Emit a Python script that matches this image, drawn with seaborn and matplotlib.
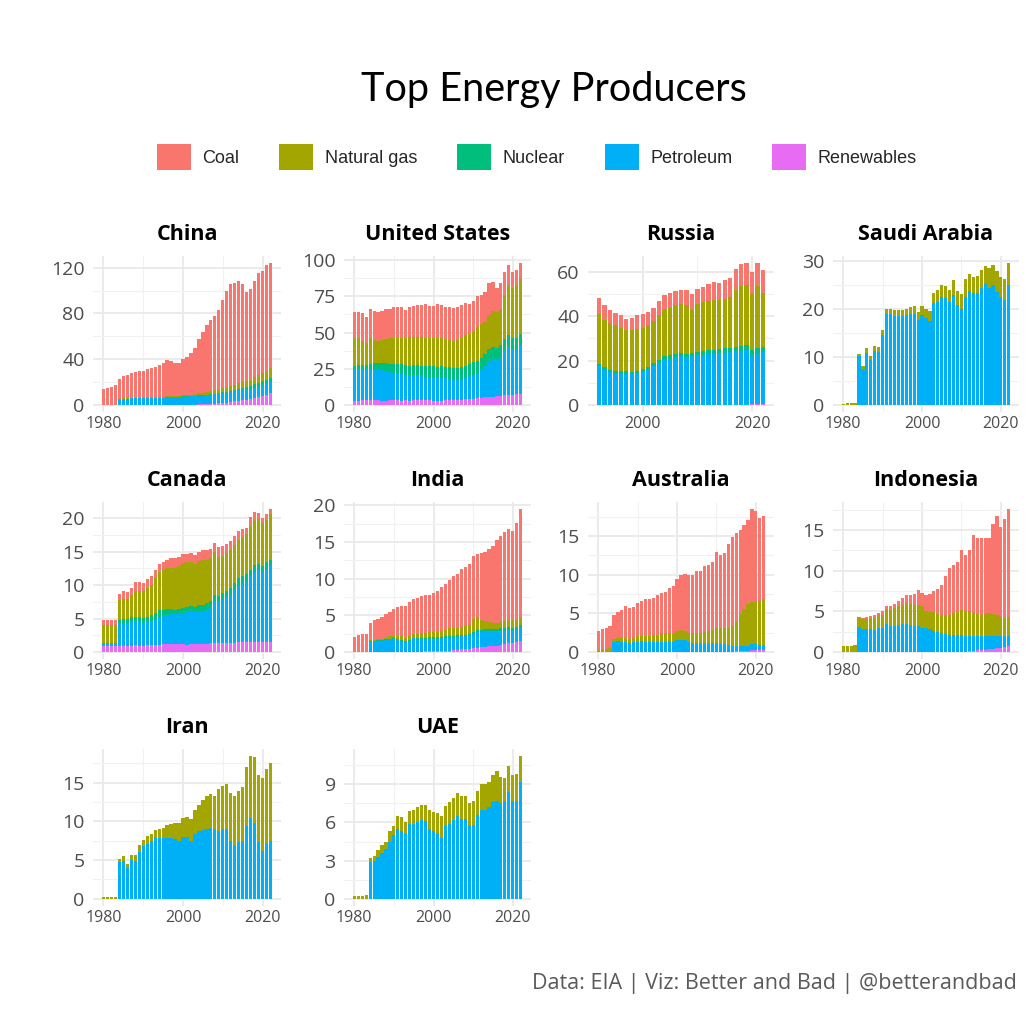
import numpy as np
import pandas as pd
import matplotlib
matplotlib.use("Agg")
import matplotlib.pyplot as plt
import seaborn as sns
from matplotlib.patches import Patch

# ---------------- data (quadrillion Btu) ----------------
sources = ["Coal", "Natural gas", "Nuclear", "Petroleum", "Renewables"]
colors = ["#F8766D", "#A3A500", "#00BF7D", "#00B0F6", "#E76BF3"]
countries = ["China", "United States", "Russia", "Saudi Arabia", "Canada",
             "India", "Australia", "Indonesia", "Iran", "UAE"]
first_year = {"Russia": 1992}

china_coal = [14, 14.5, 16, 17, 17.5, 19.0, 19.9, 21.8, 22.7, 23.6, 23.5, 24.4, 25.4, 26.2, 28.0, 29.9,
              31.5, 30.3, 29.3, 29.0, 31.6, 33.5, 36.1, 40.8, 48.0, 53.5, 58.9, 62.1, 65.2, 69.7, 77.3,
              84.6, 89.6, 89.4, 89.2, 85.8, 78.0, 78.8, 84.0, 89.1, 89.3, 92.2, 92.1]
china_gas = [0, 0, 0, 0, 0.5, 0.5, 0.5, 0.5, 0.5, 0.6, 0.6, 0.6, 0.6, 0.7, 0.7, 0.7, 0.8, 0.8, 0.8, 0.9,
             1.0, 1.1, 1.2, 1.3, 1.6, 1.9, 2.2, 2.6, 2.9, 3.2, 3.6, 3.9, 4.1, 4.5, 4.8, 5.0, 5.1, 5.5,
             6.0, 6.5, 7.0, 7.6, 8.0]
china_nuc = [0] * 14 + [0.1, 0.1, 0.1, 0.1, 0.1, 0.2, 0.2, 0.2, 0.3, 0.4, 0.5, 0.5, 0.5, 0.6, 0.7, 0.7,
                        0.8, 0.9, 1.0, 1.1, 1.3, 1.7, 2.1, 2.5, 2.9, 3.4, 3.6, 3.9, 3.9]
china_pet = [0, 0, 0, 0, 5.0, 5.5, 5.6, 5.7, 5.8, 5.8, 5.9, 6.0, 6.0, 6.1, 6.2, 6.3, 6.6, 6.8, 6.8, 6.9,
             7.0, 7.0, 7.1, 7.2, 7.5, 7.6, 7.8, 7.9, 8.0, 8.0, 8.5, 8.6, 8.8, 9.0, 9.2, 9.5, 9.3, 9.2,
             9.3, 9.5, 9.6, 9.8, 10.0]
china_ren = [0] * 20 + [0.2, 0.2, 0.3, 0.3, 0.4, 0.5, 0.6, 0.8, 1.2, 1.4, 1.8, 2.0, 2.5, 3.0, 3.5, 4.0,
                        4.5, 5.0, 5.8, 6.5, 7.5, 8.5, 10.0]

us_coal = [18, 18, 19.5, 18, 20, 20, 20.5, 20, 21, 20.5, 22, 21.5, 21.5, 19.5, 21, 21.5, 22, 22, 23, 22.5,
           22.5, 23.5, 23, 22, 23, 23, 23, 22.5, 22.5, 21, 21, 21, 20, 21, 22, 20, 17, 18, 17, 14,
           11, 11.5, 11]
us_gas = [18.8, 18.5, 16.4, 15.3, 17.5, 15.9, 15.1, 16.1, 16.4, 17.8, 17.9, 17.6, 18.0, 18.6, 19.8, 19.4,
          19.4, 20.4, 19.9, 19.4, 19.1, 20.0, 19.4, 19.1, 18.8, 18.3, 19.3, 20.0, 21.1, 20.6, 21.6, 23.7,
          23.4, 21.8, 23.7, 24.7, 24.6, 24.6, 29.6, 34.5, 34.7, 35.9, 37.9]
us_nuc = [2.7, 3.0, 3.1, 3.2, 3.5, 4.1, 4.4, 4.9, 5.6, 5.7, 6.1, 6.4, 6.5, 6.4, 6.7, 7.1, 7.1, 6.6, 7.1, 7.6,
          7.9, 8.0, 8.1, 7.9, 8.2, 8.2, 8.2, 8.5, 8.4, 8.4, 8.4, 8.3, 8.1, 8.2, 8.3, 8.3, 8.4, 8.4, 8.4,
          8.5, 8.3, 8.1, 8.1]
us_pet = [21.5, 21.5, 21.1, 20.9, 21.5, 21.8, 21.2, 21.0, 20.7, 19.2, 18.9, 18.8, 18.5, 17.8, 17.5, 17.2,
          16.9, 16.4, 16.2, 15.7, 16.0, 15.9, 15.6, 15.4, 14.9, 14.3, 14.0, 14.5, 14.7, 16.1, 16.7, 17.1,
          19.7, 21.7, 24.5, 26.5, 25.0, 26.5, 30.4, 33.3, 31.0, 30.8, 33.2]
us_ren = [3.0, 3.0, 3.4, 3.6, 3.5, 3.2, 3.3, 3.0, 2.8, 3.3, 3.1, 3.2, 3.0, 3.2, 3.0, 3.3, 3.6, 3.6, 3.3, 3.3,
          3.0, 2.6, 2.9, 3.1, 3.1, 3.2, 3.5, 3.5, 3.8, 3.9, 4.3, 4.9, 4.8, 5.3, 5.5, 5.5, 6.0, 6.5, 6.6,
          6.7, 7.0, 7.2, 7.8]

ru_coal = [7.5, 6.5, 6.0, 5.5, 5.5, 5.0, 5.5, 6.0, 6.0, 6.0, 6.0, 6.5, 6.5, 6.5, 6.5, 6.5, 7.0, 7.0, 7.0,
           7.0, 7.5, 8.0, 7.5, 8.5, 8.5, 9.5, 10.0, 10.0, 10.0, 10.5, 10.5]
ru_gas = [22.3, 21.3, 21.0, 20.5, 19.6, 18.7, 18.9, 19.0, 18.7, 18.6, 19.1, 20.0, 21.0, 21.5, 21.9, 21.9,
          21.9, 19.3, 21.3, 21.9, 22.2, 22.6, 22.2, 22.3, 23.0, 26.0, 27.0, 27.1, 25.3, 27.8, 24.5]
ru_nuc = [1.2, 1.2, 1.0, 1.0, 1.1, 1.1, 1.1, 1.2, 1.3, 1.4, 1.4, 1.5, 1.5, 1.5, 1.6, 1.6, 1.6, 1.7, 1.7,
          1.8, 1.8, 1.7, 1.8, 2.0, 2.0, 2.0, 2.0, 2.1, 2.2, 2.2, 2.2]
ru_pet = [17.3, 15.8, 14.8, 14.3, 14.1, 14.0, 13.8, 14.1, 14.8, 15.8, 17.3, 18.8, 20.3, 20.8, 21.3, 21.8,
          21.3, 21.8, 22.3, 22.6, 22.8, 23.0, 23.3, 23.5, 23.8, 23.8, 24.3, 24.6, 22.3, 23.3, 23.6]
ru_ren = [0.1, 0.1, 0.1, 0.1, 0.1, 0.1, 0.1, 0.1, 0.1, 0.1, 0.1, 0.1, 0.1, 0.1, 0.1, 0.1, 0.1, 0.1, 0.1,
          0.1, 0.1, 0.1, 0.1, 0.1, 0.1, 0.15, 0.15, 0.15, 0.2, 0.2, 0.2]

sa_gas = [0.1, 0.5, 0.4, 0.3, 0.5, 0.7, 1.0, 0.9, 1.1, 1.0, 1.2, 1.0, 1.1, 1.2, 1.2, 1.3, 1.3, 1.5, 1.6,
          1.6, 1.8, 1.8, 1.9, 2.2, 2.4, 2.5, 2.5, 2.6, 3.1, 2.9, 3.2, 3.6, 3.7, 3.5, 3.6, 3.6, 3.8, 4.1,
          4.0, 4.4, 4.0, 4.2, 4.6]
sa_pet = [0, 0, 0, 0, 10.2, 7.5, 10.8, 9.3, 11.2, 11.0, 14.5, 19.0, 19.0, 18.6, 18.6, 18.6, 18.7, 19.0,
          19.0, 17.7, 18.8, 18.2, 17.6, 21.2, 21.5, 22.6, 22.3, 21.4, 23.0, 20.8, 20.0, 22.6, 23.7, 23.3,
          23.4, 24.5, 25.2, 24.4, 25.1, 23.5, 22.6, 22.0, 25.0]

ca_coal = [0.7, 0.7, 0.7, 0.75, 0.9, 1.1, 1.0, 1.1, 1.4, 1.3, 1.3, 1.3, 1.3, 1.2, 1.1, 1.1, 1.2, 1.5, 1.4,
           1.3, 1.3, 1.3, 1.3, 1.3, 1.4, 1.5, 1.5, 1.4, 1.4, 1.5, 1.6, 1.4, 1.4, 1.4, 1.3, 1.2, 1.0, 1.4,
           1.2, 0.9, 0.7, 0.8, 0.8]
ca_gas = [2.8, 2.8, 2.8, 2.7, 3.0, 3.0, 3.0, 3.3, 3.8, 4.0, 4.0, 4.3, 4.6, 5.1, 5.7, 6.0, 6.2, 6.1, 6.3,
          6.5, 6.7, 6.7, 6.6, 6.4, 6.6, 6.7, 6.5, 6.4, 6.4, 5.8, 5.5, 5.6, 5.6, 5.6, 5.8, 5.9, 6.0, 6.5,
          6.8, 6.7, 6.4, 6.4, 6.9]
ca_nuc = [0, 0, 0, 0, 0.5, 0.6, 0.7, 0.7, 0.7, 0.7, 0.7, 0.8, 0.8, 0.9, 1.0, 0.8, 0.8, 0.7, 0.5, 0.6, 0.7,
          0.7, 0.8, 0.8, 0.8, 0.8, 0.8, 0.8, 0.9, 0.9, 1.0, 1.0, 1.0, 1.1, 1.1, 1.1, 1.1, 1.0, 1.0, 1.0,
          1.0, 1.0, 0.9]
ca_pet = [0.45, 0.45, 0.45, 0.4, 3.4, 3.45, 3.35, 3.55, 3.6, 3.55, 3.45, 3.5, 3.7, 3.95, 4.2, 4.35, 4.4,
          4.5, 4.65, 4.6, 4.7, 4.9, 4.9, 4.8, 5.0, 5.0, 5.3, 5.5, 6.3, 6.2, 6.5, 6.85, 7.25, 7.9, 8.45,
          8.75, 9.05, 9.8, 10.5, 10.75, 10.45, 10.9, 11.3]
ca_ren = [0.85, 0.85, 0.85, 0.9, 0.9, 0.95, 0.95, 0.95, 1.0, 0.95, 0.95, 1.0, 1.0, 1.05, 1.1, 1.15, 1.2,
          1.2, 1.15, 1.2, 1.2, 1.1, 1.2, 1.2, 1.2, 1.2, 1.2, 1.3, 1.3, 1.3, 1.3, 1.35, 1.35, 1.4, 1.45,
          1.45, 1.45, 1.5, 1.5, 1.45, 1.45, 1.5, 1.5]

in_coal = [2.0, 2.3, 2.4, 2.5, 2.4, 2.65, 2.8, 3.05, 3.25, 3.4, 3.6, 3.9, 4.1, 4.25, 4.6, 4.7, 4.9, 5.1,
           5.2, 5.1, 5.3, 5.6, 6.0, 6.3, 6.6, 7.0, 7.4, 7.9, 8.1, 8.3, 8.6, 8.7, 9.1, 9.4, 9.9, 10.5,
           11.3, 11.7, 12.2, 12.4, 12.2, 13.2, 14.7]
in_gas = [0, 0, 0, 0, 0.1, 0.1, 0.1, 0.15, 0.25, 0.3, 0.3, 0.4, 0.45, 0.45, 0.6, 0.55, 0.6, 0.7, 0.65,
          0.7, 0.7, 0.65, 0.75, 0.9, 1.05, 1.1, 1.05, 1.1, 1.15, 1.2, 1.75, 1.75, 1.45, 1.1, 1.0, 0.9,
          0.85, 0.9, 0.95, 1.05, 1.0, 1.0, 1.1]
in_nuc = [0, 0, 0, 0, 0.1, 0.1, 0.1, 0.1, 0.1, 0.1, 0.1, 0.1, 0.1, 0.1, 0.1, 0.1, 0.1, 0.1, 0.15, 0.2,
          0.2, 0.25, 0.2, 0.2, 0.2, 0.2, 0.2, 0.2, 0.2, 0.2, 0.25, 0.25, 0.25, 0.3, 0.3, 0.3, 0.35, 0.35,
          0.35, 0.4, 0.4, 0.4, 0.4]
in_pet = [0, 0, 0, 0, 1.4, 1.45, 1.5, 1.5, 1.6, 1.7, 1.8, 1.7, 1.55, 1.4, 1.5, 1.85, 1.8, 1.8, 1.75, 1.75,
          1.75, 1.75, 1.75, 1.8, 1.8, 1.8, 1.75, 1.75, 1.75, 1.85, 2.0, 2.15, 2.1, 2.1, 2.05, 2.0, 1.95,
          1.9, 1.85, 1.8, 1.7, 1.65, 1.75]
in_ren = [0] * 18 + [0.05, 0.05, 0.05, 0.05, 0.1, 0.1, 0.15, 0.2, 0.3, 0.35, 0.4, 0.45, 0.5, 0.55, 0.6,
                     0.7, 0.75, 0.8, 0.85, 0.95, 1.05, 1.15, 1.2, 1.35, 1.55]

au_coal = [2.4, 2.65, 2.7, 2.9, 3.1, 3.45, 3.65, 4.2, 4.0, 4.0, 4.3, 4.55, 4.85, 4.8, 4.85, 5.2, 5.2, 5.4,
           5.9, 6.3, 6.7, 7.1, 7.4, 7.4, 7.6, 8.0, 8.0, 8.5, 8.5, 8.8, 9.9, 9.4, 9.7, 10.9, 11.6, 11.5,
           10.9, 11.0, 10.9, 12.0, 11.8, 10.8, 10.8]
au_gas = [0.3, 0.35, 0.4, 0.5, 0.4, 0.4, 0.45, 0.55, 0.5, 0.55, 0.7, 0.7, 0.75, 0.8, 0.85, 0.95, 1.1, 1.1,
          1.05, 1.0, 1.1, 1.2, 1.2, 1.2, 1.3, 1.4, 1.4, 1.45, 1.55, 1.7, 2.0, 2.1, 2.1, 2.25, 2.5, 3.2,
          4.2, 4.8, 5.4, 5.5, 5.5, 5.7, 5.9]
au_pet = [0, 0, 0, 0, 1.3, 1.35, 1.3, 1.25, 1.2, 1.25, 1.3, 1.35, 1.3, 1.3, 1.3, 1.25, 1.3, 1.3, 1.35, 1.3,
          1.6, 1.6, 1.5, 1.3, 1.1, 1.1, 1.1, 1.15, 1.15, 1.1, 1.1, 1.0, 1.0, 0.85, 0.8, 0.65, 0.6, 0.6,
          0.65, 0.8, 0.75, 0.6, 0.6]
au_ren = [0] * 35 + [0.05, 0.1, 0.1, 0.15, 0.2, 0.25, 0.3, 0.3]

id_coal = [0, 0, 0, 0, 0, 0.2, 0.2, 0.2, 0.3, 0.3, 0.5, 0.3, 0.5, 0.5, 0.7, 0.8, 1.0, 1.1, 1.3, 1.8, 1.6,
           2.0, 2.2, 2.6, 3.1, 3.7, 4.8, 5.7, 5.9, 6.2, 7.4, 6.9, 7.6, 9.6, 9.4, 9.5, 9.4, 9.2, 11.1,
           12.2, 11.1, 12.2, 13.3]
id_gas = [0.7, 0.75, 0.75, 0.8, 1.2, 1.2, 1.3, 1.4, 1.5, 1.6, 1.6, 1.9, 2.0, 2.2, 2.3, 2.4, 2.6, 2.6, 2.6,
          2.6, 2.6, 2.1, 2.1, 2.3, 2.3, 2.2, 2.3, 2.5, 2.7, 2.8, 3.1, 3.1, 3.0, 2.9, 2.8, 2.7, 2.8, 2.8,
          2.7, 2.5, 2.3, 2.2, 2.3]
id_pet = [0, 0, 0, 0, 3.1, 2.8, 2.8, 2.8, 2.7, 2.9, 3.0, 3.4, 3.2, 3.2, 3.3, 3.4, 3.4, 3.3, 3.2, 3.2, 3.0,
          2.9, 2.8, 2.6, 2.4, 2.3, 2.2, 2.1, 2.1, 2.1, 2.1, 2.0, 1.9, 1.75, 1.7, 1.7, 1.65, 1.7, 1.6, 1.5,
          1.5, 1.4, 1.3]
id_ren = [0] * 32 + [0.1, 0.15, 0.2, 0.2, 0.25, 0.3, 0.4, 0.5, 0.5, 0.6, 0.7]

ir_gas = [0.2, 0.2, 0.2, 0.3, 0.5, 0.6, 0.5, 0.6, 0.7, 0.8, 0.8, 1.0, 1.0, 1.1, 1.2, 1.4, 1.7, 1.8, 2.1,
          2.3, 2.4, 2.6, 2.9, 3.1, 3.4, 3.9, 4.2, 4.3, 4.3, 5.4, 5.6, 5.8, 6.1, 6.2, 6.6, 7.0, 7.6, 8.0,
          8.5, 8.7, 9.4, 9.6, 10.0]
ir_pet = [0, 0, 0, 0, 4.7, 4.9, 4.0, 5.0, 4.9, 6.1, 6.8, 7.1, 7.4, 7.8, 7.8, 7.8, 7.8, 7.8, 7.7, 7.5, 8.0,
          8.0, 7.4, 8.4, 8.7, 8.9, 9.0, 9.2, 9.0, 8.8, 9.0, 9.0, 7.5, 7.0, 7.3, 7.4, 9.4, 10.4, 9.8, 7.3,
          6.2, 7.2, 7.5]

ae_gas = [0.2, 0.2, 0.2, 0.3, 0.3, 0.4, 0.5, 0.6, 0.6, 0.8, 0.7, 1.0, 1.1, 0.9, 1.0, 1.1, 1.2, 1.2, 1.3,
          1.5, 1.5, 1.5, 1.7, 1.6, 1.7, 1.7, 1.8, 1.8, 1.8, 1.7, 1.9, 1.9, 2.0, 2.0, 2.0, 2.1, 2.3, 2.1,
          1.8, 2.0, 2.0, 2.1, 2.0]
ae_pet = [0, 0, 0, 0, 2.9, 3.0, 3.3, 3.6, 3.9, 4.5, 5.0, 5.5, 5.3, 5.1, 5.9, 5.9, 6.0, 6.2, 6.1, 5.5, 5.3,
          5.2, 4.8, 5.7, 5.9, 6.2, 6.5, 6.3, 6.3, 5.8, 5.8, 6.6, 7.0, 7.0, 7.2, 7.6, 7.7, 7.5, 7.7, 8.4,
          7.7, 7.7, 9.2]

series = {
    "China": {"Coal": china_coal, "Natural gas": china_gas, "Nuclear": china_nuc,
              "Petroleum": china_pet, "Renewables": china_ren},
    "United States": {"Coal": us_coal, "Natural gas": us_gas, "Nuclear": us_nuc,
                      "Petroleum": us_pet, "Renewables": us_ren},
    "Russia": {"Coal": ru_coal, "Natural gas": ru_gas, "Nuclear": ru_nuc,
               "Petroleum": ru_pet, "Renewables": ru_ren},
    "Saudi Arabia": {"Natural gas": sa_gas, "Petroleum": sa_pet},
    "Canada": {"Coal": ca_coal, "Natural gas": ca_gas, "Nuclear": ca_nuc,
               "Petroleum": ca_pet, "Renewables": ca_ren},
    "India": {"Coal": in_coal, "Natural gas": in_gas, "Nuclear": in_nuc,
              "Petroleum": in_pet, "Renewables": in_ren},
    "Australia": {"Coal": au_coal, "Natural gas": au_gas, "Petroleum": au_pet, "Renewables": au_ren},
    "Indonesia": {"Coal": id_coal, "Natural gas": id_gas, "Petroleum": id_pet, "Renewables": id_ren},
    "Iran": {"Natural gas": ir_gas, "Petroleum": ir_pet},
    "UAE": {"Natural gas": ae_gas, "Petroleum": ae_pet},
}

y_breaks = {"China": [0, 40, 80, 120], "United States": [0, 25, 50, 75, 100],
            "Russia": [0, 20, 40, 60], "Saudi Arabia": [0, 10, 20, 30],
            "Canada": [0, 5, 10, 15, 20], "India": [0, 5, 10, 15, 20],
            "Australia": [0, 5, 10, 15], "Indonesia": [0, 5, 10, 15],
            "Iran": [0, 5, 10, 15], "UAE": [0, 3, 6, 9]}
x_breaks = [1980, 2000, 2020]

rows = []
for c, d in series.items():
    y0 = first_year.get(c, 1980)
    for s, vals in d.items():
        for i, v in enumerate(vals):
            rows.append((c, y0 + i, s, float(v)))
df = pd.DataFrame(rows, columns=["country", "year", "source", "value"])

# ---------------- figure ----------------
sns.set_theme(style="white")
plt.rcParams["font.family"] = ["Open Sans", "DejaVu Sans"]

W, H = 1028, 1030
fig = plt.figure(figsize=(W / 100, H / 100), dpi=100)
fig.patch.set_facecolor("white")

col_x = [(93, 281), (344, 531), (588, 774), (833, 1019)]
row_y = [(256, 412), (502, 659), (749, 906)]

grid_major = "#E8E8E8"
grid_minor = "#F1F1F1"
tick_col = "#4D4D4D"

for k, c in enumerate(countries):
    r, col = divmod(k, 4)
    x0, x1 = col_x[col]
    y0, y1 = row_y[r]
    ax = fig.add_axes([x0 / W, 1 - y1 / H, (x1 - x0) / W, (y1 - y0) / H])
    sub = df[df.country == c]
    sns.histplot(data=sub, x="year", weights="value", hue="source", hue_order=sources,
                 palette=colors, multiple="stack", discrete=True, shrink=0.8,
                 element="bars", linewidth=0, alpha=1, legend=False, ax=ax)
    tot = sub.groupby("year")["value"].sum()
    ymax = tot.max()
    ax.set_ylim(-0.05 * ymax, 1.05 * ymax)
    lo, hi = sub.year.min() - 0.45, sub.year.max() + 0.45
    ex = 0.05 * (hi - lo)
    ax.set_xlim(lo - ex, hi + ex)
    xl = ax.get_xlim()
    yl = ax.get_ylim()
    xt = [t for t in x_breaks if xl[0] < t < xl[1]]
    ax.set_xticks(xt)
    ax.set_xticklabels([str(t) for t in xt])
    ax.set_xticks([t for t in [1990, 2010] if xl[0] + 0.5 < t < xl[1]], minor=True)
    yb = y_breaks[c]
    step = yb[1] - yb[0]
    ax.set_yticks(yb)
    ax.set_yticklabels([str(t) for t in yb])
    ax.set_yticks([t + step / 2 for t in [yb[0] - step] + yb if yl[0] < t + step / 2 < yl[1]], minor=True)
    ax.set_axisbelow(True)
    ax.grid(True, which="major", color=grid_major, linewidth=1.2)
    ax.grid(True, which="minor", color=grid_minor, linewidth=0.8)
    for sp in ax.spines.values():
        sp.set_visible(False)
    ax.tick_params(which="both", length=0)
    ax.tick_params(axis="y", labelsize=14, labelcolor=tick_col, pad=6)
    ax.tick_params(axis="x", labelsize=11.5, labelcolor=tick_col, pad=3)
    ax.set_xlabel("")
    ax.set_ylabel("")
    ax.set_facecolor("white")
    ax.annotate(c, xy=(0.5, 1), xycoords="axes fraction", xytext=(0, 15.5), textcoords="offset points",
                ha="center", va="center", fontsize=15.5, fontweight="bold", color="black")

fig.text(554 / W, 1 - 89 / H, "Top Energy Producers", ha="center", va="center",
         fontsize=28.5, family=["Lato", "DejaVu Sans"], color="black")

handles = [Patch(facecolor=col, edgecolor="none", label=s) for s, col in zip(sources, colors)]
fig.legend(handles=handles, loc="center", bbox_to_anchor=(537 / W, 1 - 157 / H), ncol=5,
           frameon=False, prop={"family": ["Liberation Sans", "DejaVu Sans"], "size": 13},
           handlelength=1.87, handleheight=1.87, handletextpad=0.66, columnspacing=2.2)

fig.text(1017 / W, 1 - 983 / H, "Data: EIA | Viz: Better and Bad | @betterandbad", ha="right",
         va="center", fontsize=15.5, color="#5A5A5A")

fig.savefig("out.png", dpi=100, facecolor="white")
